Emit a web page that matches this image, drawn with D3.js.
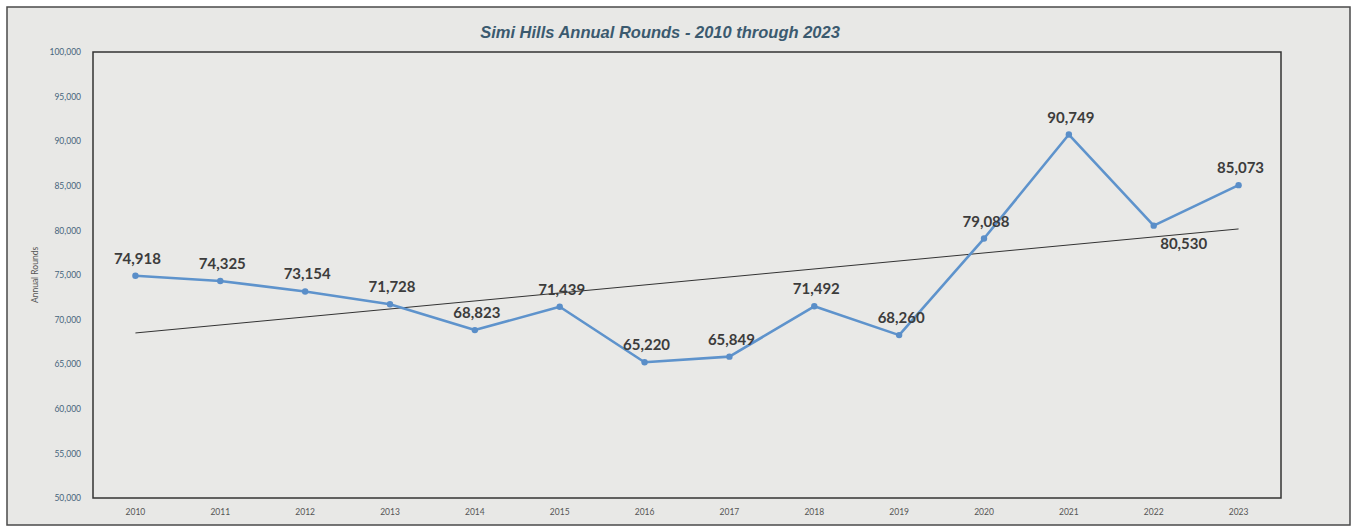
<!DOCTYPE html>
<html>
<head>
<meta charset="utf-8">
<script src="https://cdn.jsdelivr.net/npm/d3@7"></script>
<style>
  body { margin: 0; background: #fff; }
  svg { display: block; }
</style>
</head>
<body>
<script>
// chart data
const years = ["2010","2011","2012","2013","2014","2015","2016","2017","2018","2019","2020","2021","2022","2023"]
const rounds = [74918,74325,73154,71728,68823,71439,65220,65849,71492,68260,79088,90749,80530,85073]
const yTicks = [50000,55000,60000,65000,70000,75000,80000,85000,90000,95000,100000]
const titleText = "Simi Hills Annual Rounds - 2010 through 2023"
const yTitle = "Annual Rounds"

const W = 1353, H = 529
const plot = {left: 93, right: 1281, top: 52, bottom: 498}

const svg = d3.select("body").append("svg").attr("width", W).attr("height", H)

// outer chart frame
svg.append("rect")
    .attr("x", 7).attr("y", 7).attr("width", 1343).attr("height", 518)
    .attr("fill", "#e8e8e6").attr("stroke", "#4a4a4a").attr("stroke-width", 1.5)

const x = d3.scaleBand().domain(years).range([plot.left, plot.right])
const y = d3.scaleLinear().domain([50000, 100000]).range([plot.bottom, plot.top])

// plot area frame
svg.append("rect")
    .attr("x", plot.left).attr("y", plot.top)
    .attr("width", plot.right - plot.left).attr("height", plot.bottom - plot.top)
    .attr("fill", "#e9e9e7").attr("stroke", "#333").attr("stroke-width", 1.5)

// y axis
const yAxis = svg.append("g")
    .attr("transform", `translate(${plot.left},0)`)
    .call(d3.axisLeft(y).tickValues(yTicks).tickSize(0).tickPadding(12).tickFormat(d3.format(",")))
yAxis.select(".domain").remove()
yAxis.selectAll("text")
    .attr("fill", "#46657c")
    .style("font-family", "Lato, 'Liberation Sans', sans-serif")
    .style("font-size", "8.5px")

// x axis
const xAxis = svg.append("g")
    .attr("transform", `translate(0,${plot.bottom})`)
    .call(d3.axisBottom(x).tickSize(0).tickPadding(11))
xAxis.select(".domain").remove()
xAxis.selectAll("text")
    .attr("fill", "#555")
    .style("font-family", "Lato, 'Liberation Sans', sans-serif")
    .style("font-size", "8.5px")

// axis title
svg.append("text")
    .attr("transform", `translate(38,${(plot.top + plot.bottom) / 2}) rotate(-90)`)
    .attr("text-anchor", "middle")
    .attr("fill", "#555")
    .style("font-family", "Lato, 'Liberation Sans', sans-serif")
    .style("font-size", "8.5px")
    .text(yTitle)

// chart title
svg.append("text")
    .attr("x", 660).attr("y", 38)
    .attr("text-anchor", "middle")
    .attr("fill", "#3b5a6f")
    .style("font-family", "'Liberation Sans', sans-serif")
    .style("font-weight", "bold")
    .style("font-style", "italic")
    .style("font-size", "16.5px")
    .text(titleText)

// linear trendline (least squares over year index)
const idx = rounds.map((d, i) => i)
const mx = d3.mean(idx), my = d3.mean(rounds)
const slope = d3.sum(idx, i => (i - mx) * (rounds[i] - my)) / d3.sum(idx, i => (i - mx) ** 2)
const intercept = my - slope * mx
const cx = d => x(d) + x.bandwidth() / 2
svg.append("line")
    .attr("x1", cx(years[0])).attr("y1", y(intercept))
    .attr("x2", cx(years[years.length - 1])).attr("y2", y(intercept + slope * (years.length - 1)))
    .attr("stroke", "#333").attr("stroke-width", 1)

// series line
const pts = years.map((yr, i) => ({year: yr, value: rounds[i]}))
svg.append("path")
    .datum(pts)
    .attr("fill", "none")
    .attr("stroke", "#5e93cc")
    .attr("stroke-width", 2.6)
    .attr("stroke-linejoin", "round")
    .attr("d", d3.line().x(d => cx(d.year)).y(d => y(d.value)))

svg.append("g").selectAll("circle")
    .data(pts)
    .join("circle")
    .attr("cx", d => cx(d.year))
    .attr("cy", d => y(d.value))
    .attr("r", 3.2)
    .attr("fill", "#5a8ec8")

// data labels: above each point, 2022 sits below-right
svg.append("g").selectAll("text")
    .data(pts)
    .join("text")
    .attr("x", d => cx(d.year) + (d.year === "2022" ? 30 : 2))
    .attr("y", d => y(d.value) + (d.year === "2022" ? 23 : -12))
    .attr("text-anchor", "middle")
    .attr("fill", "#3c3c3c")
    .style("font-family", "Lato, 'Liberation Sans', sans-serif")
    .style("font-weight", "bold")
    .style("font-size", "15px")
    .text(d => d3.format(",")(d.value))
</script>
</body>
</html>
